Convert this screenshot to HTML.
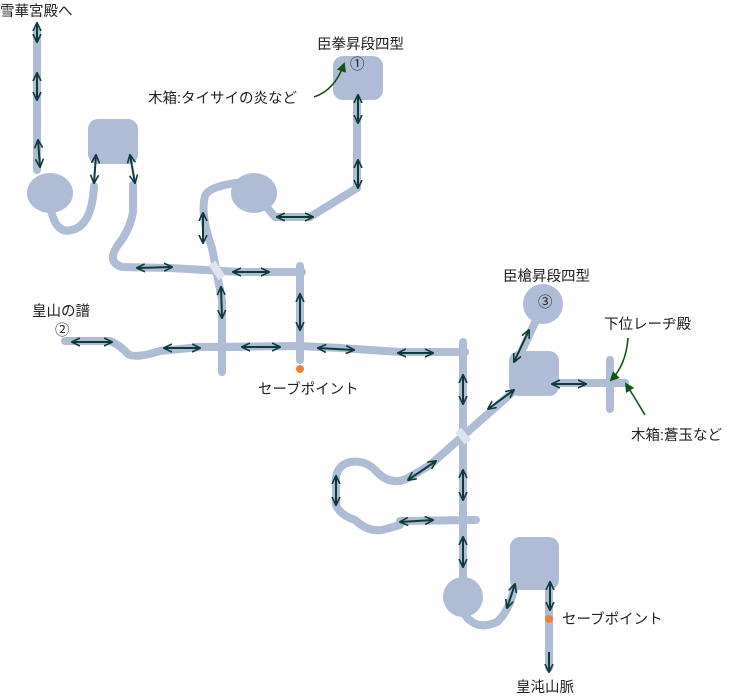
<!DOCTYPE html>
<html><head><meta charset="utf-8"><style>
html,body{margin:0;padding:0;background:#fff;}
svg{display:block;}
text{font-family:"Liberation Sans","Noto Sans CJK JP",sans-serif;font-size:14.5px;fill:#222;}
</style></head><body>
<svg width="734" height="696" viewBox="0 0 734 696" xmlns="http://www.w3.org/2000/svg">
<defs>
<marker id="ah" viewBox="0 0 10 10" refX="9" refY="5" markerWidth="4.5" markerHeight="4.5" orient="auto-start-reverse">
<path d="M0,0.5 L9.5,5 L0,9.5" fill="none" stroke="#0f3a3a" stroke-width="1.8"/>
</marker>
<marker id="gh" viewBox="0 0 10 10" refX="8" refY="5" markerWidth="6" markerHeight="6" orient="auto">
<path d="M0,0 L10,5 L0,10 Z" fill="#115511"/>
</marker>
</defs>
<g fill="none" stroke="#aebcd5" stroke-width="8" stroke-linecap="round" stroke-linejoin="round">
<path d="M37,32 L37,170"/>
<path d="M50,205 Q55,235 72,230 Q92,225 94,186"/>
<path d="M133,185 L133,212 Q130,230 118,245 Q106,262 122,267 L170,268 L240,272 L302,272"/>
<path d="M300,266 L300,360"/>
<path d="M212,248 Q200,215 205,196 Q210,185 245,182"/>
<path d="M212,248 L222,300 L222,372"/>
<path d="M265,205 L275,217 L310,217 L357,188 L357,95"/>
<path d="M65,341 L110,341 Q120,345 128,354 Q135,359 160,351 L200,347 L300,346 L340,348 L400,352 L465,352"/>
<path d="M195,347 L240,347"/>
<path d="M463,342 L463,585"/>
<path d="M400,521 L476,520"/>
<path d="M537,318 L520,355"/>
<path d="M560,383 L625,383"/>
<path d="M610,360 L610,409"/>
<path d="M515,390 L430,465 L408,478 Q390,487 375,470 Q365,460 350,462 Q335,466 336,482 L336,505 Q340,515 355,520 Q368,532 382,530 L400,525"/>
<path d="M463,612 Q475,632 497,622 Q510,610 515,585"/>
<path d="M549,590 L549,668"/>
</g>
<g fill="#aebcd5">
<ellipse cx="50" cy="193" rx="23" ry="20"/>
<rect x="88" y="119" width="50" height="45" rx="10"/>
<ellipse cx="254" cy="193" rx="23" ry="20"/>
<rect x="333" y="56" width="50" height="44" rx="10"/>
<circle cx="543" cy="304" r="20"/>
<rect x="509" y="351" width="50" height="45" rx="10"/>
<circle cx="463" cy="597" r="20"/>
<rect x="510" y="537" width="49" height="53" rx="10"/>
</g>
<path d="M212,263 L222,278" stroke="#dde4ef" stroke-width="8"/>
<path d="M458,430 L468,442" stroke="#dde4ef" stroke-width="8"/>
<circle cx="300" cy="369" r="4" fill="#f08040"/>
<circle cx="549" cy="619" r="4" fill="#f08040"/>
<g stroke="#0f3a3a" stroke-width="2" fill="none" marker-start="url(#ah)" marker-end="url(#ah)">
<line x1="37" y1="23" x2="37" y2="42"/>
<line x1="37" y1="73" x2="37" y2="100"/>
<line x1="38" y1="140" x2="40" y2="167"/>
<line x1="96" y1="155" x2="94" y2="183"/>
<line x1="130" y1="155" x2="135" y2="183"/>
<line x1="137" y1="268" x2="172" y2="267"/>
<line x1="233" y1="272" x2="269" y2="272"/>
<line x1="203" y1="213" x2="203" y2="243"/>
<line x1="277" y1="217" x2="313" y2="217"/>
<line x1="358" y1="95" x2="358" y2="123"/>
<line x1="358" y1="160" x2="358" y2="188"/>
<line x1="72" y1="342" x2="112" y2="342"/>
<line x1="164" y1="348" x2="200" y2="348"/>
<line x1="242" y1="347" x2="280" y2="347"/>
<line x1="318" y1="348" x2="354" y2="350"/>
<line x1="398" y1="353" x2="433" y2="353"/>
<line x1="300" y1="294" x2="300" y2="330"/>
<line x1="221" y1="287" x2="222" y2="318"/>
<line x1="463" y1="375" x2="463" y2="404"/>
<line x1="463" y1="470" x2="463" y2="500"/>
<line x1="463" y1="537" x2="463" y2="567"/>
<line x1="529" y1="330" x2="514" y2="362"/>
<line x1="488" y1="409" x2="514" y2="390"/>
<line x1="408" y1="480" x2="436" y2="461"/>
<line x1="336" y1="476" x2="336" y2="505"/>
<line x1="400" y1="522" x2="433" y2="520"/>
<line x1="507" y1="608" x2="515" y2="584"/>
<line x1="550" y1="582" x2="550" y2="610"/>
<line x1="552" y1="384" x2="586" y2="384"/>
</g>
<line x1="549" y1="652" x2="549" y2="672" stroke="#0f3a3a" stroke-width="2" marker-end="url(#ah)"/>
<g stroke="#115511" stroke-width="1.6" fill="none" marker-end="url(#gh)">
<path d="M314,97 Q335,90 344,64"/>
<path d="M628,338 Q626,365 611,380"/>
<path d="M645,415 Q635,398 626,384"/>
</g>
<text x="0" y="16">雪華宮殿へ</text>
<text x="317" y="49">臣拳昇段四型</text>
<text x="350" y="69">①</text>
<text x="148" y="103">木箱:タイサイの炎など</text>
<text x="503" y="281">臣槍昇段四型</text>
<text x="538" y="307">③</text>
<text x="32" y="316">皇山の譜</text>
<text x="55" y="335">②</text>
<text x="258" y="394">セーブポイント</text>
<text x="604" y="329">下位レーヂ殿</text>
<text x="631" y="440">木箱:蒼玉など</text>
<text x="562" y="624">セーブポイント</text>
<text x="516" y="692">皇沌山脈</text>
</svg>
</body></html>
